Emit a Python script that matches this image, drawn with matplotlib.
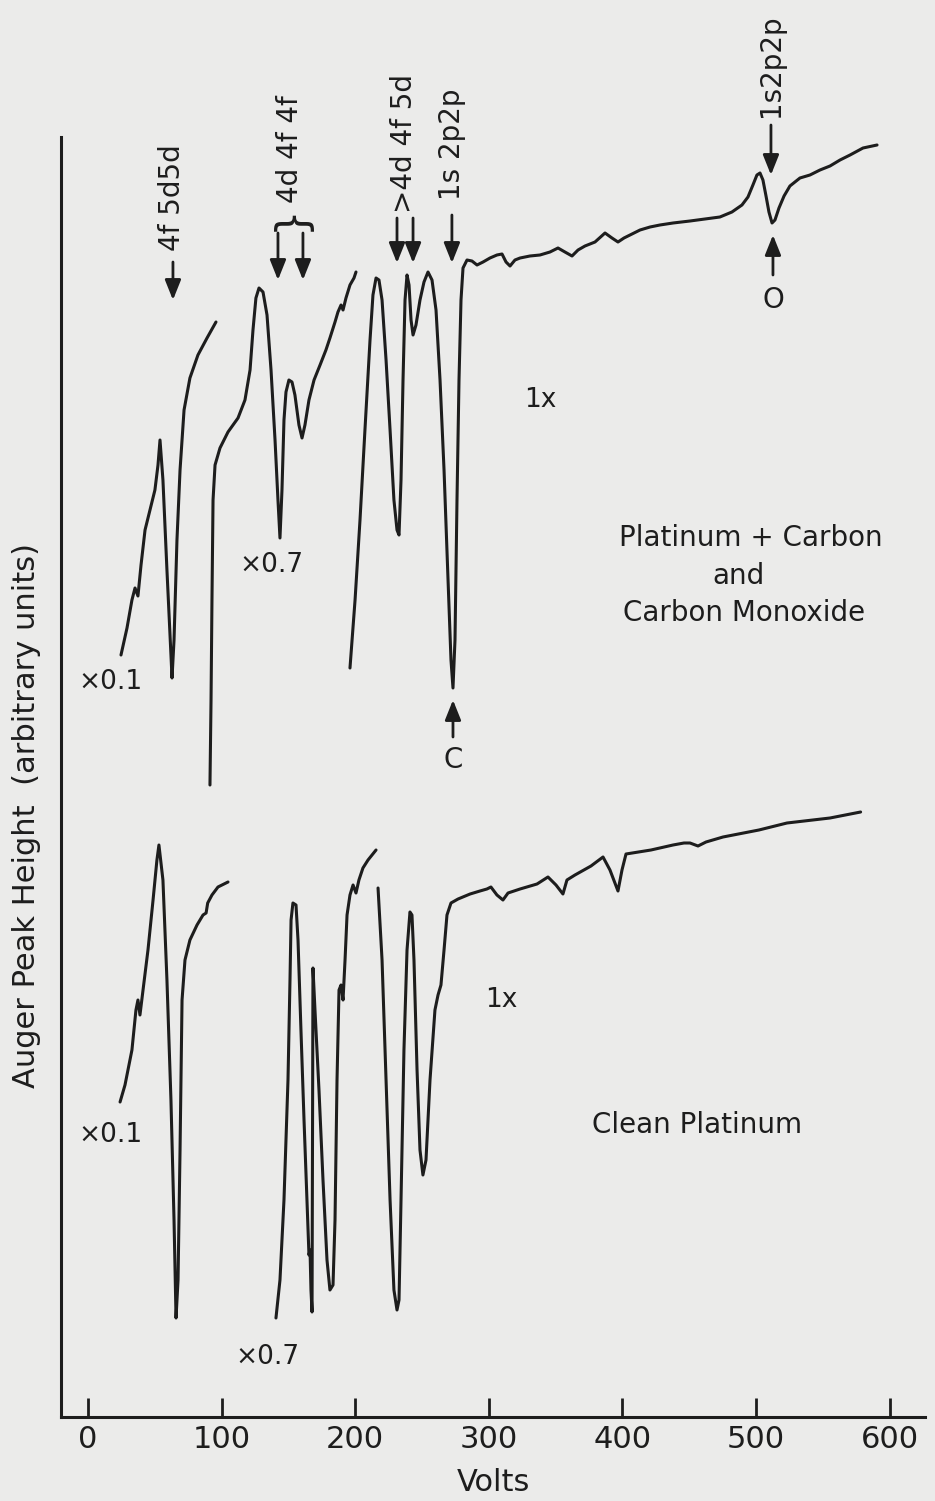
import numpy as np
import matplotlib.pyplot as plt

# ---- upper spectrum: platinum + carbon and carbon monoxide ----
top_x01_v = [24.7, 29.2, 32.9, 35.2, 37.4, 39.7, 42.7, 46.4, 50.1, 52.4, 53.9, 56.1,
             59.1, 62.1, 62.9, 64.4, 66.6, 68.9, 71.9, 76.3, 82.3, 89.1, 95.8]
top_x01_h = [76.2, 78.9, 81.7, 82.9, 82.1, 85.2, 88.7, 90.7, 92.7, 95.2, 97.7, 93.7,
             84.7, 76.2, 73.9, 77.7, 87.7, 94.7, 100.7, 103.9, 106.2, 107.9, 109.5]

top_x07_v = [91.3, 92.1, 92.8, 93.6, 95.1, 98.8, 104.8, 112.3, 117.5, 121.3, 123.5, 125.7,
             128.0, 131.0, 134.0, 137.0, 140.0, 142.2, 143.7, 145.2, 146.7, 148.2, 150.4,
             152.7, 154.9, 157.9, 160.2, 162.4, 165.4, 169.2, 173.7, 178.1, 181.1, 184.9,
             187.1, 189.4, 190.9, 193.1, 196.1, 199.1, 200.6]
top_x07_h = [63.2, 71.7, 81.7, 91.7, 95.2, 96.9, 98.5, 99.9, 101.7, 104.7, 108.7, 111.9,
             112.9, 112.5, 110.2, 104.7, 97.7, 91.7, 87.9, 92.7, 99.7, 102.5, 103.7,
             103.5, 102.2, 99.2, 97.9, 99.2, 101.7, 103.7, 105.2, 106.7, 107.9, 109.5,
             110.5, 111.2, 110.7, 111.9, 113.2, 113.9, 114.5]

top_x1_v = [196.1, 199.9, 203.6, 207.3, 211.1, 213.3, 215.6, 217.8, 220.1, 223.1, 226.1,
            229.0, 231.3, 232.8, 234.3, 235.8, 237.3, 238.8, 240.3, 241.8, 243.3, 245.5,
            248.5, 251.5, 254.5, 257.5, 260.5, 263.5, 266.5, 269.5, 271.7, 273.2, 274.7,
            276.2, 277.7, 279.2, 280.7, 283.7, 287.4, 291.2, 295.7, 300.9, 306.1, 309.9,
            312.9, 315.9, 319.6, 323.4, 330.8, 338.3, 345.8, 351.8, 357.0, 362.3, 366.8,
            372.0, 379.5, 387.0, 392.2, 396.7, 401.2, 405.7, 413.2, 420.7, 428.1, 437.9,
            450.6, 461.8, 473.0, 482.0, 489.5, 494.0, 497.7, 500.7, 503.0, 505.2, 507.5,
            509.7, 512.0, 514.2, 517.2, 521.0, 525.4, 532.9, 540.4, 547.9, 555.4, 562.9,
            570.4, 580.1, 590.6]
top_x1_h = [74.9, 81.7, 89.7, 98.7, 107.7, 112.2, 113.9, 113.7, 111.7, 105.7, 98.7,
            91.7, 88.7, 88.2, 93.7, 103.7, 111.7, 114.2, 113.2, 109.7, 108.2, 109.2,
            111.7, 113.5, 114.5, 113.7, 110.7, 103.7, 94.7, 83.7, 75.7, 72.9, 77.7,
            91.7, 103.7, 111.7, 114.9, 115.7, 115.6, 115.2, 115.5, 115.9, 116.2, 116.3,
            115.5, 115.1, 115.7, 115.9, 116.1, 116.2, 116.5, 116.9, 116.5, 116.1, 116.7,
            117.1, 117.5, 118.4, 117.9, 117.5, 117.9, 118.2, 118.7, 119.0, 119.2, 119.4,
            119.6, 119.8, 120.0, 120.5, 121.2, 122.0, 123.2, 124.2, 124.4, 123.7, 122.1,
            120.5, 119.4, 119.7, 120.9, 122.1, 123.1, 123.9, 124.2, 124.7, 125.1, 125.7,
            126.2, 126.9, 127.2]

# ---- lower spectrum: clean platinum ----
low_x01_v = [24.0, 27.7, 32.9, 35.9, 37.4, 38.9, 41.2, 44.9, 48.7, 51.6, 53.1, 56.1,
             59.1, 62.1, 64.4, 65.9, 67.4, 68.9, 70.4, 72.6, 76.3, 81.6, 86.1, 88.4,
             89.6, 92.8, 97.3, 104.8]
low_x01_h = [31.5, 33.2, 36.7, 40.7, 41.7, 40.2, 42.7, 46.7, 51.7, 55.7, 57.2, 53.7,
             43.7, 31.7, 19.7, 9.9, 13.7, 26.7, 41.7, 45.7, 47.7, 49.2, 50.2, 50.4,
             51.4, 52.2, 53.0, 53.5]

low_x07_v = [140.7, 143.7, 146.7, 149.7, 151.2, 152.0, 153.4, 155.7, 157.2, 159.4, 161.7,
             163.9, 165.4, 166.2, 166.9, 167.7, 168.4, 169.9, 172.9, 175.9, 178.9, 181.1,
             183.4, 184.9, 186.4, 187.9, 189.4, 190.9, 192.4, 193.9, 196.1, 198.4, 200.6,
             202.8, 205.8, 209.6, 215.6]
low_x07_h = [9.9, 13.7, 21.7, 33.7, 43.7, 49.7, 51.4, 51.2, 47.7, 38.7, 29.7,
             21.7, 16.2, 16.7, 12.7, 10.5, 44.9, 40.7, 32.7, 23.7, 15.7, 12.7,
             13.2, 19.7, 33.7, 42.7, 43.2, 41.7, 45.7, 50.2, 52.2, 53.2, 52.4,
             53.7, 54.9, 55.7, 56.7]

low_x1_v = [217.1, 220.1, 223.1, 226.1, 229.0, 231.3, 232.8, 234.3, 236.5, 238.8, 241.0,
            242.5, 244.0, 246.3, 248.5, 250.7, 253.0, 256.0, 259.7, 262.0, 264.2, 266.5,
            268.7, 271.7, 277.0, 286.0, 293.4, 298.6, 301.6, 306.1, 310.6, 314.4, 323.4,
            336.1, 344.3, 350.3, 355.5, 358.5, 364.5, 376.5, 385.5, 390.7, 396.7, 399.7,
            402.7, 421.4, 437.9, 446.1, 450.6, 456.6, 462.6, 475.3, 502.2, 523.2, 555.4,
            578.3]
low_x1_h = [52.9, 45.7, 33.7, 21.7, 12.7, 10.7, 11.7, 21.7, 36.7, 46.7, 50.5,
            50.2, 45.7, 34.7, 26.7, 24.2, 25.7, 33.7, 40.7, 42.2, 43.2, 46.7,
            50.2, 51.4, 51.8, 52.3, 52.6, 52.8, 53.0, 52.2, 51.7, 52.4, 52.8,
            53.3, 54.0, 53.2, 52.3, 53.7, 54.2, 55.1, 56.0, 54.7, 52.6, 54.7,
            56.3, 56.7, 57.2, 57.4, 57.4, 57.1, 57.5, 58.0, 58.7, 59.4, 59.9,
            60.5]

x_ticks = [0, 100, 200, 300, 400, 500, 600]

INK = '#1d1d1d'
PAPER = '#ebebea'

plt.rcParams['font.family'] = ['DejaVu Sans']

fig = plt.figure(figsize=(9.35, 15.01), dpi=100, facecolor=PAPER)
ax = fig.add_axes([61 / 935, 1 - 1417 / 1501, 864 / 935, 1280 / 1501])
ax.set_facecolor(PAPER)

for v, h in [(top_x01_v, top_x01_h), (top_x07_v, top_x07_h), (top_x1_v, top_x1_h),
             (low_x01_v, low_x01_h), (low_x07_v, low_x07_h), (low_x1_v, low_x1_h)]:
    ax.plot(v, h, color=INK, lw=2.2, solid_joinstyle='round', solid_capstyle='round')

ax.set_xlim(-20.2, 626.5)
ax.set_ylim(0, 128)
ax.spines[['top', 'right']].set_visible(False)
ax.spines[['left', 'bottom']].set_linewidth(2.2)
ax.spines[['left', 'bottom']].set_color(INK)
ax.set_xticks(x_ticks)
ax.set_yticks([])
ax.tick_params(axis='x', direction='in', length=14, width=2, labelsize=22,
               pad=6, color=INK, labelcolor=INK)
ax.set_xlabel('Volts', fontsize=22, labelpad=10, color=INK)
ax.text(-0.0405, 0.47, 'Auger Peak Height  (arbitrary units)', transform=ax.transAxes,
        rotation=90, ha='center', va='center', fontsize=22, color=INK)


def arrow(v, h_from, h_to):
    ax.annotate('', xy=(v, h_to), xytext=(v, h_from), annotation_clip=False,
                arrowprops=dict(arrowstyle='-|>,head_length=0.55,head_width=0.22',
                                lw=2, color=INK, shrinkA=0, shrinkB=0,
                                mutation_scale=22))


def peak_label(v, h, s):
    ax.text(v, h, s, rotation=90, ha='center', va='bottom', fontsize=20,
            color=INK, clip_on=False)


# transition markers
arrow(63.6, 115.5, 111.7)
peak_label(62.9, 116.6, '4f 5d5d')

arrow(142.2, 118.4, 113.7)
arrow(160.9, 118.4, 113.7)
ax.text(151.5, 119.9, '}', rotation=90, ha='center', va='center', fontsize=30,
        color=INK)
peak_label(151.2, 121.4, '4d 4f 4f')

arrow(231.3, 119.9, 115.4)
arrow(243.3, 119.9, 115.4)
peak_label(236.3, 120.4, '>4d 4f 5d')

arrow(272.4, 120.2, 115.4)
peak_label(272.4, 121.7, '1s 2p2p')

arrow(273.2, 68.0, 71.7)
ax.text(273.2, 65.7, 'C', ha='center', va='center', fontsize=20, color=INK)

arrow(511.2, 129.2, 124.2)
peak_label(511.2, 130.0, '1s2p2p')

arrow(512.7, 114.2, 118.2)
ax.text(512.7, 111.7, 'O', ha='center', va='center', fontsize=20, color=INK)

# gain factors
for v, h, s in [(16.5, 73.5, '×0.1'), (16.5, 28.2, '×0.1'),
                (137.0, 85.2, '×0.7'), (134.0, 6.0, '×0.7'),
                (338.3, 101.7, '1x'), (309.0, 41.7, '1x')]:
    ax.text(v, h, s, ha='center', va='center', fontsize=19, color=INK)

# sample descriptions
ax.text(496, 87.9, 'Platinum + Carbon', ha='center', va='center', fontsize=20, color=INK)
ax.text(487, 84.1, 'and', ha='center', va='center', fontsize=20, color=INK)
ax.text(491, 80.4, 'Carbon Monoxide', ha='center', va='center', fontsize=20, color=INK)
ax.text(455.8, 29.2, 'Clean Platinum', ha='center', va='center', fontsize=20, color=INK)

fig.savefig('out.png', dpi=100, facecolor=PAPER)
